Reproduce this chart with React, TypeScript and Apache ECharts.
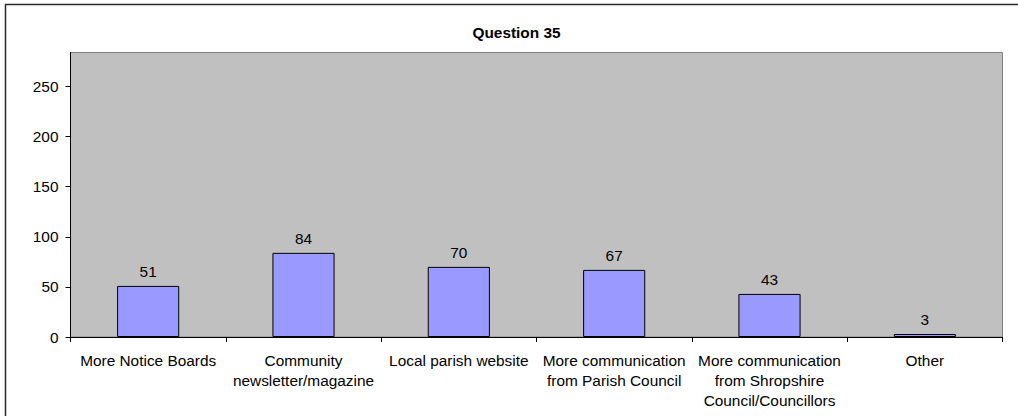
import React, { useEffect, useRef } from "react";
import * as echarts from "echarts";

const categories = [
  "More Notice Boards",
  "Community\nnewsletter/magazine",
  "Local parish website",
  "More communication\nfrom Parish Council",
  "More communication\nfrom Shropshire\nCouncil/Councillors",
  "Other",
];
const values = [51, 84, 70, 67, 43, 3];
const yTicks = [0, 50, 100, 150, 200, 250];
const titleText = "Question 35";
const yMax = 284;

const FONT = "'Liberation Sans', Arial, sans-serif";
const FS = 15.4;

export default function App() {
  const ref = useRef<HTMLDivElement>(null);
  useEffect(() => {
    if (!ref.current) return;
    const chart = echarts.init(ref.current, null, { renderer: "svg" });
    chart.setOption({
      animation: false,
      backgroundColor: "#ffffff",
      textStyle: { fontFamily: FONT },
      graphic: [
        {
          type: "rect",
          shape: { x: 5.5, y: 4.5, width: 1200, height: 600 },
          style: { fill: "none", stroke: "#2a2a2a", lineWidth: 1.5 },
          silent: true,
          z: 100,
        },
        {
          type: "text",
          x: 516.5,
          y: 32,
          style: {
            text: titleText,
            fontFamily: FONT,
            fontSize: FS,
            fontWeight: "bold",
            fill: "#000",
            align: "center",
            verticalAlign: "middle",
          },
        },
      ],
      grid: {
        left: 70.5,
        right: 15.5,
        top: 52.5,
        bottom: 79,
        show: true,
        backgroundColor: "#C0C0C0",
        borderColor: "#808080",
        borderWidth: 1,
        containLabel: false,
        outerBoundsMode: "none",
      },
      xAxis: {
        type: "category",
        data: categories,
        boundaryGap: true,
        axisLine: { show: true, lineStyle: { color: "#000", width: 1 } },
        axisTick: { show: true, length: 5, inside: false, lineStyle: { color: "#000" } },
        axisLabel: {
          interval: 0,
          margin: 13,
          fontFamily: FONT,
          fontSize: FS,
          color: "#000",
          lineHeight: 20,
          align: "center",
        },
        splitLine: { show: false },
      },
      yAxis: {
        type: "value",
        min: 0,
        max: yMax,
        interval: 50,
        axisLine: { show: true, lineStyle: { color: "#000", width: 1 } },
        axisTick: {
          show: true,
          length: 5,
          lineStyle: { color: "#000" },
          customValues: yTicks,
        },
        axisLabel: {
          margin: 12,
          fontFamily: FONT,
          fontSize: FS,
          color: "#000",
          customValues: yTicks,
        },
        splitLine: { show: false },
      },
      series: [
        {
          type: "bar",
          data: values,
          barWidth: "40%",
          itemStyle: { color: "#9999FF", borderColor: "#000", borderWidth: 1 },
          label: {
            show: true,
            position: "top",
            distance: 7,
            fontFamily: FONT,
            fontSize: FS,
            color: "#000",
          },
        },
      ],
    });
    return () => chart.dispose();
  }, []);
  return (
    <div
      ref={ref}
      style={{ position: "absolute", left: 0, top: 0, width: 1018, height: 416 }}
    />
  );
}
